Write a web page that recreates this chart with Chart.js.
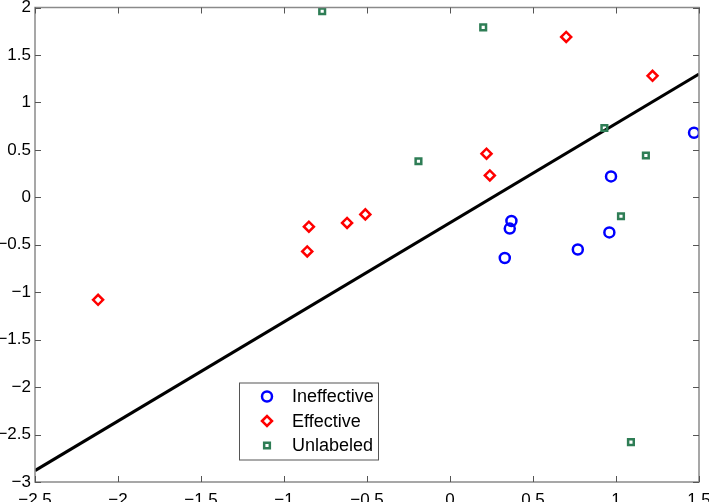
<!DOCTYPE html>
<html>
<head>
<meta charset="utf-8">
<script src="https://cdn.jsdelivr.net/npm/chart.js@4"></script>
<style>
  html, body { margin: 0; padding: 0; background: #fff; }
  #wrap { width: 709px; height: 502px; }
</style>
</head>
<body>
<div id="wrap"><canvas id="chart" width="709" height="502"></canvas></div>
<script>
// data
const ineffX = [1.47, 0.97, 0.37, 0.36, 0.33, 0.77, 0.96];
const ineffY = [0.68, 0.22, -0.25, -0.33, -0.64, -0.55, -0.37];

const effX = [-2.12, -0.85, -0.86, -0.62, -0.51, 0.22, 0.24, 0.70, 1.22];
const effY = [-1.08, -0.31, -0.57, -0.27, -0.18, 0.46, 0.23, 1.69, 1.28];

const unlabX = [-0.77, 0.20, -0.19, 0.93, 1.18, 1.03, 1.09];
const unlabY = [1.96, 1.79, 0.38, 0.73, 0.44, -0.20, -2.58];

const lineX = [-2.5, 1.5];
const lineY = [-2.88, 1.30];

const seriesNames = ['Ineffective', 'Effective', 'Unlabeled'];
const xTicks = [-2.5, -2, -1.5, -1, -0.5, 0, 0.5, 1, 1.5];
const yTicks = [-3, -2.5, -2, -1.5, -1, -0.5, 0, 0.5, 1, 1.5, 2];

const toPts = (xs, ys) => xs.map((x, i) => ({ x: x, y: ys[i] }));
const fmt = v => String(v).replace('-', '\u2212');

const axisGray = '#8a8a8a';
const fontFam = '"Liberation Sans", Arial, sans-serif';

// matlab style frame with inward ticks + legend box
const matlabFrame = {
  id: 'matlabFrame',
  afterDraw(chart) {
    const ctx = chart.ctx;
    const a = chart.chartArea;
    const xs = chart.scales.x, ys = chart.scales.y;
    ctx.save();
    ctx.strokeStyle = axisGray;
    ctx.lineWidth = 1.5;
    ctx.strokeRect(a.left, a.top, a.right - a.left, a.bottom - a.top);
    ctx.lineWidth = 1;
    ctx.strokeStyle = '#555';
    const tl = 6;
    ctx.beginPath();
    xTicks.forEach(v => {
      const px = Math.round(xs.getPixelForValue(v)) + 0.5;
      ctx.moveTo(px, a.bottom); ctx.lineTo(px, a.bottom - tl);
      ctx.moveTo(px, a.top); ctx.lineTo(px, a.top + tl);
    });
    yTicks.forEach(v => {
      const py = Math.round(ys.getPixelForValue(v)) + 0.5;
      ctx.moveTo(a.left, py); ctx.lineTo(a.left + tl, py);
      ctx.moveTo(a.right, py); ctx.lineTo(a.right - tl, py);
    });
    ctx.stroke();

    // legend
    const bx = a.left + 204, by = a.top + 375, bw = 139, bh = 77;
    ctx.fillStyle = '#fff';
    ctx.fillRect(bx, by, bw, bh);
    ctx.strokeStyle = '#555';
    ctx.lineWidth = 1;
    ctx.strokeRect(bx + 0.5, by + 0.5, bw, bh);
    ctx.font = '18px ' + fontFam;
    ctx.textBaseline = 'middle';
    ctx.textAlign = 'left';
    chart.data.datasets.slice(0, 3).forEach((ds, i) => {
      const cy = by + 14 + i * 24.5;
      ctx.strokeStyle = ds.borderColor;
      ctx.fillStyle = 'rgba(0,0,0,0)';
      ctx.lineWidth = ds.borderWidth;
      Chart.helpers.drawPoint(ctx, {
        pointStyle: ds.pointStyle,
        radius: ds.pointRadius,
        borderWidth: ds.borderWidth
      }, bx + 28, cy);
      ctx.fillStyle = '#000';
      ctx.fillText(ds.label, bx + 53, cy + 1);
    });
    ctx.restore();
  }
};

new Chart(document.getElementById('chart'), {
  type: 'scatter',
  data: {
    datasets: [
      {
        label: seriesNames[0],
        data: toPts(ineffX, ineffY),
        pointStyle: 'circle',
        pointRadius: 5,
        borderWidth: 2.5,
        borderColor: '#0000ff',
        backgroundColor: 'rgba(0,0,0,0)'
      },
      {
        label: seriesNames[1],
        data: toPts(effX, effY),
        pointStyle: 'rectRot',
        pointRadius: 5,
        borderWidth: 2.5,
        borderColor: '#ff0000',
        backgroundColor: 'rgba(0,0,0,0)'
      },
      {
        label: seriesNames[2],
        data: toPts(unlabX, unlabY),
        pointStyle: 'rect',
        pointRadius: 4,
        borderWidth: 2.5,
        borderColor: '#2e7d55',
        backgroundColor: 'rgba(0,0,0,0)'
      },
      {
        type: 'line',
        label: 'boundary',
        data: toPts(lineX, lineY),
        borderColor: '#000',
        borderWidth: 3,
        pointRadius: 0,
        fill: false
      }
    ]
  },
  options: {
    responsive: false,
    animation: false,
    layout: { padding: { top: 5, right: 10, left: 0, bottom: 0 } },
    plugins: {
      legend: { display: false },
      tooltip: { enabled: false }
    },
    scales: {
      x: {
        type: 'linear',
        min: -2.5,
        max: 1.5,
        afterFit: s => {
          s.height = 20;
          s.paddingLeft = 0; s.paddingRight = 0;
        },
        afterBuildTicks: s => { s.ticks = xTicks.map(v => ({ value: v })); },
        grid: { display: false, drawTicks: false },
        border: { display: false },
        ticks: {
          color: '#000',
          padding: 8,
          maxRotation: 0,
          font: { family: fontFam, size: 17 },
          callback: v => fmt(v)
        }
      },
      y: {
        type: 'linear',
        min: -3,
        max: 2,
        afterFit: s => {
          s.width = 35;
          s.paddingTop = 0; s.paddingBottom = 0;
        },
        afterBuildTicks: s => { s.ticks = yTicks.map(v => ({ value: v })); },
        grid: { display: false, drawTicks: false },
        border: { display: false },
        ticks: {
          color: '#000',
          padding: 4,
          font: { family: fontFam, size: 17 },
          callback: v => fmt(v)
        }
      }
    }
  },
  plugins: [matlabFrame]
});
</script>
</body>
</html>
